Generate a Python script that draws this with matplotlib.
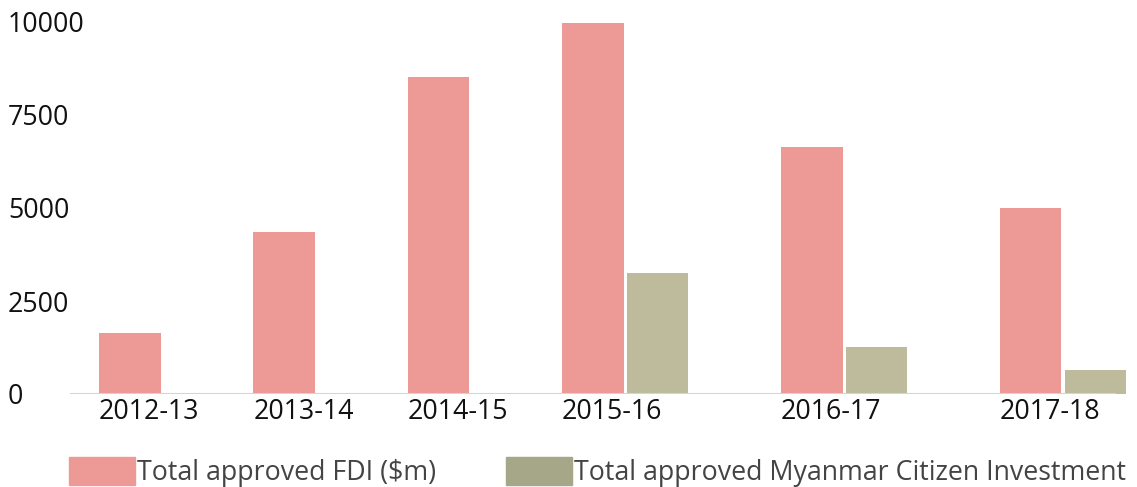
import matplotlib.pyplot as plt
from matplotlib.patches import Patch

plt.rcParams['font.family'] = ['Open Sans', 'DejaVu Sans']

years = ['2012-13', '2013-14', '2014-15', '2015-16', '2016-17', '2017-18']
fdi = [1640, 4350, 8520, 9970, 6640, 5000]
mci = [None, None, None, 3250, 1260, 640]

fdi_color = '#ed9995'
mci_color = '#bdbb9b'
mci_legend_color = '#a6a689'
fs = 19.3

# group layout: each group is as wide as its bars plus a gap
w = 1.0
inner = 0.05
gap = 1.51
lefts = []
pos = 0.0
for v in mci:
    lefts.append(pos)
    n = 1 if v is None else 2
    pos += n * w + (n - 1) * inner + gap

fig = plt.figure(figsize=(11.37, 4.87), dpi=100)
ax = fig.add_axes([70 / 1137, 93 / 487, 1 - 70 / 1137, 372 / 487])

ax.bar(lefts, fdi, width=w, align='edge', color=fdi_color, zorder=2)
for x, v in zip(lefts, mci):
    if v is not None:
        ax.bar(x + w + inner, v, width=w, align='edge', color=mci_color, zorder=2)

ppu = 61.5  # pixels per unit
ax.set_xlim(-(99 - 70) / ppu, -(99 - 70) / ppu + (1137 - 70) / ppu)
ax.set_ylim(0, 10000)

for s in ax.spines.values():
    s.set_visible(False)
ax.axhline(0, xmin=0, xmax=(1115 - 70) / (1137 - 70), color='#d4d4d4', lw=1.5, zorder=3)

ax.set_yticks([0, 2500, 5000, 7500, 10000])
ax.set_yticklabels(['0', '2500', '5000', '7500', '10000'], ha='left', fontsize=fs, color='#111111')
ax.tick_params(axis='y', length=0, pad=(70 - 8) * 0.72)

ax.set_xticks(lefts)
ax.set_xticklabels(years, ha='left', fontsize=fs, color='#111111')
ax.tick_params(axis='x', length=0, pad=3)

handles = [Patch(color=fdi_color), Patch(color=mci_legend_color)]
fig.legend(handles, ['Total approved FDI ($m)', 'Total approved Myanmar Citizen Investment'],
           loc='lower left', bbox_to_anchor=(69 / 1137, 0.0), ncol=2, frameon=False,
           fontsize=fs, labelcolor='#444444', handlelength=2.46, handleheight=1.19,
           handletextpad=0.075, columnspacing=2.6, borderpad=0, borderaxespad=0)

plt.savefig('out.png', dpi=100)
